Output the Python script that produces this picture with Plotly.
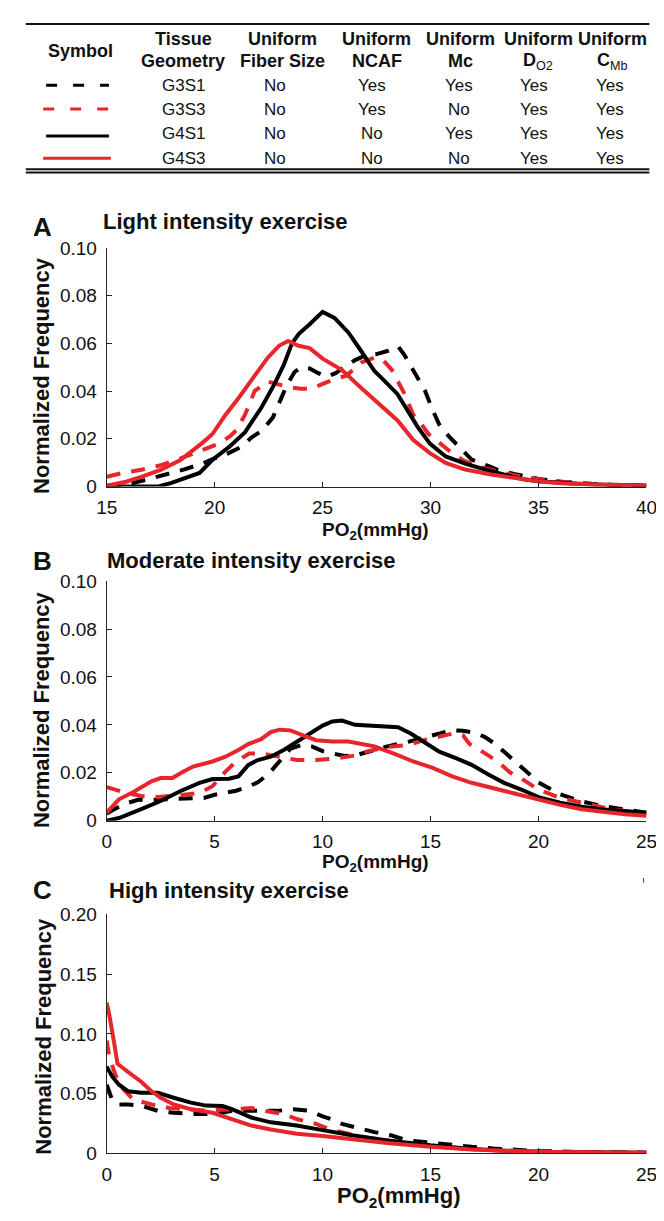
import plotly.graph_objects as go

W, H = 664, 1221
FONT = "Liberation Sans, Arial, sans-serif"
BLACK = "#000000"
RED = "#E8252B"

# ---------------- data ----------------
series_names = ["G3S1", "G3S3", "G4S1", "G4S3"]

# Panel A: light intensity exercise
a_g3s1_x = [15, 16, 16.9, 17.8, 18.6, 19.4, 19.9, 20.6, 21.2, 21.7, 22.2, 22.7, 23.0, 23.35, 23.7, 24.0, 24.4, 24.8, 25.2, 25.6, 26.0, 26.5, 27.0, 27.5, 28.0, 28.5, 28.8, 29.1, 29.4, 29.75, 30.05, 30.4, 30.85, 31.5, 31.9, 32.7, 33.1, 34, 35, 36, 37, 38, 40]
a_g3s1_y = [0.0003, 0.001, 0.003, 0.005, 0.0072, 0.0095, 0.0115, 0.0138, 0.0165, 0.0205, 0.0235, 0.029, 0.0357, 0.0426, 0.048, 0.050, 0.0495, 0.0475, 0.046, 0.0475, 0.050, 0.053, 0.055, 0.0555, 0.0568, 0.0587, 0.055, 0.050, 0.0455, 0.040, 0.033, 0.026, 0.021, 0.0147, 0.0113, 0.0085, 0.007, 0.005, 0.0032, 0.002, 0.0012, 0.0008, 0.0003]
a_g3s3_x = [15, 15.9, 16.6, 17.5, 18.4, 19.0, 19.6, 20.2, 20.7, 21.0, 21.4, 21.85, 22.45, 23.0, 23.5, 24.0, 24.5, 25.0, 25.55, 26.1, 26.8, 27.4, 27.8, 28.2, 28.5, 28.8, 29.2, 29.45, 29.9, 30.6, 31.0, 31.5, 32.2, 33, 34, 35, 36, 37, 38, 40]
a_g3s3_y = [0.0041, 0.006, 0.007, 0.0089, 0.0117, 0.0138, 0.0158, 0.018, 0.021, 0.0235, 0.030, 0.040, 0.044, 0.0428, 0.0415, 0.041, 0.041, 0.043, 0.045, 0.0465, 0.052, 0.054, 0.053, 0.049, 0.044, 0.0387, 0.030, 0.0277, 0.022, 0.0168, 0.014, 0.011, 0.0085, 0.0065, 0.0045, 0.003, 0.002, 0.0012, 0.0008, 0.0003]
a_g4s1_x = [15, 16, 17.4, 18.0, 18.56, 19.3, 19.9, 20.66, 21.4, 22.16, 22.75, 23.2, 23.58, 23.9, 24.4, 25.0, 25.55, 26.2, 26.8, 27.4, 27.9, 28.47, 29.4, 29.97, 30.7, 31.6, 32.8, 33.7, 34.3, 35, 36, 37, 38, 40]
a_g4s1_y = [0, 0, 0, 0.0015, 0.0034, 0.0057, 0.0112, 0.0165, 0.0227, 0.033, 0.0426, 0.051, 0.060, 0.064, 0.068, 0.0732, 0.0707, 0.0645, 0.0566, 0.0484, 0.044, 0.0387, 0.025, 0.018, 0.0126, 0.0096, 0.0064, 0.0044, 0.003, 0.0022, 0.0014, 0.001, 0.0007, 0.0003]
a_g4s3_x = [15, 15.9, 16.6, 17.5, 18.4, 19.0, 19.46, 19.9, 20.5, 21.1, 21.86, 22.46, 22.98, 23.4, 23.88, 24.4, 25.0, 25.9, 26.8, 27.1, 27.8, 28.47, 29.2, 29.97, 30.7, 31.6, 32.8, 33.7, 34.3, 35, 36, 37, 38, 40]
a_g4s3_y = [0.0003, 0.002, 0.004, 0.007, 0.011, 0.015, 0.0185, 0.022, 0.030, 0.037, 0.0467, 0.054, 0.059, 0.061, 0.059, 0.058, 0.0536, 0.0488, 0.0412, 0.0387, 0.033, 0.0277, 0.0195, 0.014, 0.0099, 0.0071, 0.005, 0.0037, 0.003, 0.0022, 0.0014, 0.001, 0.0007, 0.0003]

# Panel B: moderate intensity exercise
b_g3s1_x = [0, 0.5, 1, 1.5, 2, 3, 4, 4.5, 5, 5.5, 6, 6.5, 7, 7.5, 8, 8.5, 9, 9.5, 10, 10.5, 11, 11.5, 12, 12.5, 13, 14, 15, 16, 16.5, 17, 17.5, 18, 18.5, 19, 19.5, 20, 21, 22, 23, 24, 25]
b_g3s1_y = [0.003, 0.0055, 0.0075, 0.0088, 0.0087, 0.0089, 0.009, 0.0095, 0.0108, 0.0115, 0.0125, 0.014, 0.016, 0.0195, 0.025, 0.030, 0.0315, 0.031, 0.029, 0.028, 0.027, 0.0272, 0.0285, 0.030, 0.031, 0.033, 0.0355, 0.0378, 0.0375, 0.0368, 0.035, 0.032, 0.028, 0.024, 0.020, 0.016, 0.011, 0.008, 0.006, 0.0045, 0.0033]
b_g3s3_x = [0, 0.4, 0.9, 1.6, 2.4, 3.5, 4.3, 4.9, 5.5, 6.0, 6.6, 7.2, 7.9, 8.8, 9.7, 10.6, 11.5, 12.1, 13.2, 13.9, 14.7, 15.4, 16.0, 16.5, 16.8, 17.4, 18.1, 18.7, 19.3, 20, 21, 22, 23, 24, 25]
b_g3s3_y = [0.014, 0.013, 0.0116, 0.0103, 0.0099, 0.0107, 0.0116, 0.0144, 0.0205, 0.0247, 0.028, 0.028, 0.0267, 0.0253, 0.0253, 0.026, 0.0272, 0.029, 0.031, 0.0315, 0.0336, 0.035, 0.0363, 0.0356, 0.032, 0.0288, 0.0247, 0.020, 0.017, 0.013, 0.0095, 0.0075, 0.0055, 0.004, 0.003]
b_g4s1_x = [0, 0.57, 1.6, 2.5, 3.4, 4.3, 4.9, 5.66, 6.1, 6.56, 7.0, 7.6, 8.2, 8.8, 9.4, 10.0, 10.45, 10.9, 11.5, 12.4, 13.5, 14.1, 14.7, 15.4, 16.2, 16.9, 17.7, 18.4, 19.2, 20, 21, 22, 23, 24, 25]
b_g4s1_y = [0, 0.0011, 0.0048, 0.0082, 0.0123, 0.0158, 0.0174, 0.0175, 0.0185, 0.0233, 0.0253, 0.0267, 0.0295, 0.033, 0.0363, 0.0397, 0.0414, 0.0418, 0.040, 0.0397, 0.039, 0.0363, 0.033, 0.0288, 0.026, 0.0233, 0.0192, 0.0158, 0.013, 0.0098, 0.0075, 0.0058, 0.0047, 0.004, 0.0033]
b_g4s3_x = [0, 0.57, 1.3, 2.07, 2.5, 3.04, 3.56, 4.0, 4.9, 5.5, 6.1, 6.56, 7.15, 7.6, 8.0, 8.5, 9.1, 9.7, 10.45, 11.2, 11.8, 12.4, 13.3, 14.2, 15.1, 16.0, 16.9, 17.8, 18.7, 19.3, 20, 21, 22, 23, 24, 25]
b_g4s3_y = [0.0034, 0.0089, 0.0123, 0.0164, 0.0178, 0.0178, 0.0205, 0.0226, 0.0247, 0.0267, 0.0295, 0.032, 0.034, 0.037, 0.038, 0.0377, 0.0356, 0.0336, 0.033, 0.033, 0.032, 0.031, 0.028, 0.0247, 0.022, 0.0185, 0.0158, 0.0137, 0.0116, 0.0103, 0.0086, 0.0066, 0.0048, 0.0036, 0.0027, 0.002]

# Panel C: high intensity exercise
c_g3s1_x = [0, 0.12, 0.27, 0.57, 1.0, 1.6, 2.37, 3.1, 4.0, 5.06, 5.8, 6.4, 7.0, 7.9, 8.65, 9.4, 10.0, 10.5, 10.9, 11.7, 12.4, 13.2, 13.9, 14.7, 15.4, 16.3, 16.9, 18, 19, 20, 22, 25]
c_g3s1_y = [0.0575, 0.0507, 0.044, 0.041, 0.041, 0.040, 0.0356, 0.034, 0.033, 0.033, 0.0356, 0.0356, 0.0356, 0.0356, 0.037, 0.0356, 0.031, 0.028, 0.0247, 0.021, 0.0178, 0.015, 0.011, 0.0096, 0.0082, 0.0068, 0.0055, 0.004, 0.0028, 0.002, 0.0012, 0.0006]
c_g3s3_x = [0, 0.12, 0.4, 0.7, 1.24, 2.07, 2.9, 3.56, 4.5, 5.96, 6.7, 7.3, 8.2, 8.8, 9.7, 10.4, 11.0, 12.1, 14.0, 15.9, 17, 18.8, 20, 22, 25]
c_g3s3_y = [0.0945, 0.081, 0.066, 0.055, 0.045, 0.041, 0.038, 0.037, 0.036, 0.037, 0.038, 0.0356, 0.033, 0.0288, 0.0247, 0.0197, 0.017, 0.0129, 0.0088, 0.0047, 0.0035, 0.002, 0.0015, 0.001, 0.0005]
c_g4s1_x = [0, 0.27, 0.57, 1.0, 1.6, 2.37, 3.1, 3.9, 4.6, 5.36, 5.8, 6.7, 7.6, 8.8, 10.0, 11.2, 13.1, 15.0, 16.9, 18.8, 20.7, 25]
c_g4s1_y = [0.0726, 0.064, 0.0575, 0.052, 0.0507, 0.0507, 0.0466, 0.0425, 0.040, 0.0397, 0.037, 0.030, 0.026, 0.0233, 0.0195, 0.0156, 0.0107, 0.0068, 0.0038, 0.002, 0.0011, 0.0005]
c_g4s3_x = [0, 0.12, 0.34, 0.5, 1.0, 1.6, 2.07, 2.5, 3.1, 3.9, 4.9, 5.8, 6.7, 7.6, 8.8, 10.0, 11.2, 13.1, 15.0, 16.9, 18.8, 20.7, 25]
c_g4s3_y = [0.126, 0.116, 0.093, 0.075, 0.068, 0.060, 0.052, 0.0466, 0.041, 0.037, 0.034, 0.0288, 0.0233, 0.020, 0.0165, 0.0145, 0.012, 0.0085, 0.0055, 0.0032, 0.002, 0.0011, 0.0005]

# axes
a_xticks = [15, 20, 25, 30, 35, 40]
bc_xticks = [0, 5, 10, 15, 20, 25]
ab_yticks = [0, 0.02, 0.04, 0.06, 0.08, 0.10]
ab_yticktext = ["0", "0.02", "0.04", "0.06", "0.08", "0.10"]
c_yticks = [0, 0.05, 0.10, 0.15, 0.20]
c_yticktext = ["0", "0.05", "0.10", "0.15", "0.20"]

panel_titles = ["Light intensity exercise", "Moderate intensity exercise", "High intensity exercise"]
panel_letters = ["A", "B", "C"]

# table
table_header = [["Symbol"], ["Tissue", "Geometry"], ["Uniform", "Fiber Size"], ["Uniform", "NCAF"],
                ["Uniform", "Mc"], ["Uniform", "<b>D</b><sub>O2</sub>"], ["Uniform", "<b>C</b><sub>Mb</sub>"]]
table_rows = [
    ["G3S1", "No", "Yes", "Yes", "Yes", "Yes"],
    ["G3S3", "No", "Yes", "No", "Yes", "Yes"],
    ["G4S1", "No", "No", "Yes", "Yes", "Yes"],
    ["G4S3", "No", "No", "No", "Yes", "Yes"],
]

# ---------------- styling ----------------
styles = {
    "G3S1": dict(color=BLACK, dash="14px,11px"),
    "G3S3": dict(color=RED, dash="14px,11px"),
    "G4S1": dict(color=BLACK, dash="solid"),
    "G4S3": dict(color=RED, dash="solid"),
}


def X(px):
    return px / W


def Y(py):
    return 1 - py / H


fig = go.Figure()

panels = [
    ("x", "y", [(a_g3s1_x, a_g3s1_y), (a_g3s3_x, a_g3s3_y), (a_g4s1_x, a_g4s1_y), (a_g4s3_x, a_g4s3_y)]),
    ("x2", "y2", [(b_g3s1_x, b_g3s1_y), (b_g3s3_x, b_g3s3_y), (b_g4s1_x, b_g4s1_y), (b_g4s3_x, b_g4s3_y)]),
    ("x3", "y3", [(c_g3s1_x, c_g3s1_y), (c_g3s3_x, c_g3s3_y), (c_g4s1_x, c_g4s1_y), (c_g4s3_x, c_g4s3_y)]),
]
for xa, ya, data in panels:
    for name, (xs, ys) in zip(series_names, data):
        st = styles[name]
        fig.add_trace(go.Scatter(x=xs, y=ys, mode="lines", name=name, showlegend=False,
                                 xaxis=xa, yaxis=ya,
                                 line=dict(color=st["color"], width=4, dash=st["dash"])))

plot_left, plot_right = 90.7, 649
ydoms = [(476.7, 234), (816.7, 573), (1155.3, 912)]

axis_common = dict(showline=True, linecolor="#222", linewidth=1, ticks="inside", ticklen=5,
                   tickcolor="#222", showgrid=False, zeroline=False, mirror=False,
                   tickfont=dict(family=FONT, size=19, color="#111"))

layout = dict(width=W, height=H, margin=dict(l=0, r=0, t=0, b=0),
              paper_bgcolor="white", plot_bgcolor="white", showlegend=False)

xranges = [[15, 40], [0, 25], [0, 25]]
xtickss = [a_xticks, bc_xticks, bc_xticks]
yranges = [[0, 0.10], [0, 0.10], [0, 0.20]]
ytickss = [(ab_yticks, ab_yticktext), (ab_yticks, ab_yticktext), (c_yticks, c_yticktext)]
for i in range(3):
    sfx = "" if i == 0 else str(i + 1)
    ybot, ytop = ydoms[i]
    layout["xaxis" + sfx] = dict(axis_common, domain=[X(plot_left), X(plot_right)], range=xranges[i],
                                 tickvals=xtickss[i], ticktext=[str(v) for v in xtickss[i]],
                                 anchor="y" + sfx, ticklabelstandoff=4)
    layout["yaxis" + sfx] = dict(axis_common, domain=[Y(ybot), Y(ytop)], range=yranges[i],
                                 tickvals=ytickss[i][0], ticktext=ytickss[i][1],
                                 anchor="x" + sfx, ticklabelstandoff=5)

fig.update_layout(**layout)

ann = []
# panel letters and titles
letter_y = [212.5, 552.5, 887.5]
title_y = [207.5, 552, 888]
title_x = [85, 89, 91]
for i in range(3):
    ann.append(dict(text="<b>%s</b>" % panel_letters[i], x=X(24.5), y=Y(letter_y[i]), xref="paper", yref="paper",
                    xanchor="center", yanchor="middle", showarrow=False,
                    font=dict(family=FONT, size=26, color="#111")))
    ann.append(dict(text="<b>%s</b>" % panel_titles[i], x=X(title_x[i]), y=Y(title_y[i]), xref="paper",
                    yref="paper", xanchor="left", yanchor="middle", showarrow=False,
                    font=dict(family=FONT, size=22, color="#111")))

# y titles
ytitle_pos = [(23.5, 363.5), (23.5, 703.5), (25.4, 1036)]
for (px, py) in ytitle_pos:
    ann.append(dict(text="<b>Normalized Frequency</b>", x=X(px), y=Y(py), xref="paper", yref="paper",
                    xanchor="center", yanchor="middle", textangle=-90, showarrow=False,
                    font=dict(family=FONT, size=22, color="#111")))

# x titles
xtitle_pos = [(369, 522, 19), (369, 860, 19), (392, 1200, 22)]
for (px, py, fs) in xtitle_pos:
    ann.append(dict(text="<b>PO<sub>2</sub>(mmHg)</b>", x=X(px), y=Y(py), xref="paper", yref="paper",
                    xanchor="center", yanchor="middle", showarrow=False,
                    font=dict(family=FONT, size=fs, color="#111")))

# table header
col_x = [63.5, 170, 272.5, 370, 456.6, 537, 614]
for cx, lines in zip(col_x, table_header):
    if len(lines) == 1:
        ann.append(dict(text="<b>%s</b>" % lines[0], x=X(cx), y=Y(33.5), xref="paper", yref="paper",
                        xanchor="center", yanchor="middle", showarrow=False,
                        font=dict(family=FONT, size=18, color="#111")))
    else:
        ann.append(dict(text="<b>%s</b>" % lines[0], x=X(cx), y=Y(21.7), xref="paper", yref="paper",
                        xanchor="center", yanchor="middle", showarrow=False,
                        font=dict(family=FONT, size=18, color="#111")))
        second = lines[1] if lines[1].startswith("<b>") else "<b>%s</b>" % lines[1]
        ann.append(dict(text=second, x=X(cx), y=Y(44), xref="paper", yref="paper",
                        xanchor="center", yanchor="middle", showarrow=False,
                        font=dict(family=FONT, size=18, color="#111")))

row_y = [68.3, 93.3, 117.8, 142.7]
body_x = [170, 265, 365, 455, 533, 611]
for ry, row in zip(row_y, table_rows):
    for bx, val in zip(body_x, row):
        ann.append(dict(text=val, x=X(bx), y=Y(ry), xref="paper", yref="paper",
                        xanchor="center", yanchor="middle", showarrow=False,
                        font=dict(family=FONT, size=17, color="#111")))

fig.update_layout(annotations=ann)

# table rules and symbol samples
shapes = []
shapes.append(dict(type="line", xref="paper", yref="paper", x0=X(7), x1=X(652), y0=Y(6), y1=Y(6),
                   line=dict(color="#111", width=2)))
for yy in (153.8, 157.2):
    shapes.append(dict(type="line", xref="paper", yref="paper", x0=X(7), x1=X(652), y0=Y(yy), y1=Y(yy),
                       line=dict(color="#111", width=2)))
sym_y = [68.3, 92.7, 120, 142.7]
sym_x = [(28, 93), (25, 97), (28, 93), (25, 95)]
for name, sy, (sx0, sx1) in zip(series_names, sym_y, sym_x):
    st = styles[name]
    shapes.append(dict(type="line", xref="paper", yref="paper", x0=X(sx0), x1=X(sx1), y0=Y(sy), y1=Y(sy),
                       line=dict(color=st["color"], width=3,
                                 dash="11px,16px" if st["dash"] != "solid" else "solid")))
# small stray tick mark at top right of panel C (present in the original figure)
shapes.append(dict(type="line", xref="paper", yref="paper", x0=X(646), x1=X(646), y0=Y(875), y1=Y(880),
                   line=dict(color="#444", width=1)))
fig.update_layout(shapes=shapes)

fig.write_html("out.html")
